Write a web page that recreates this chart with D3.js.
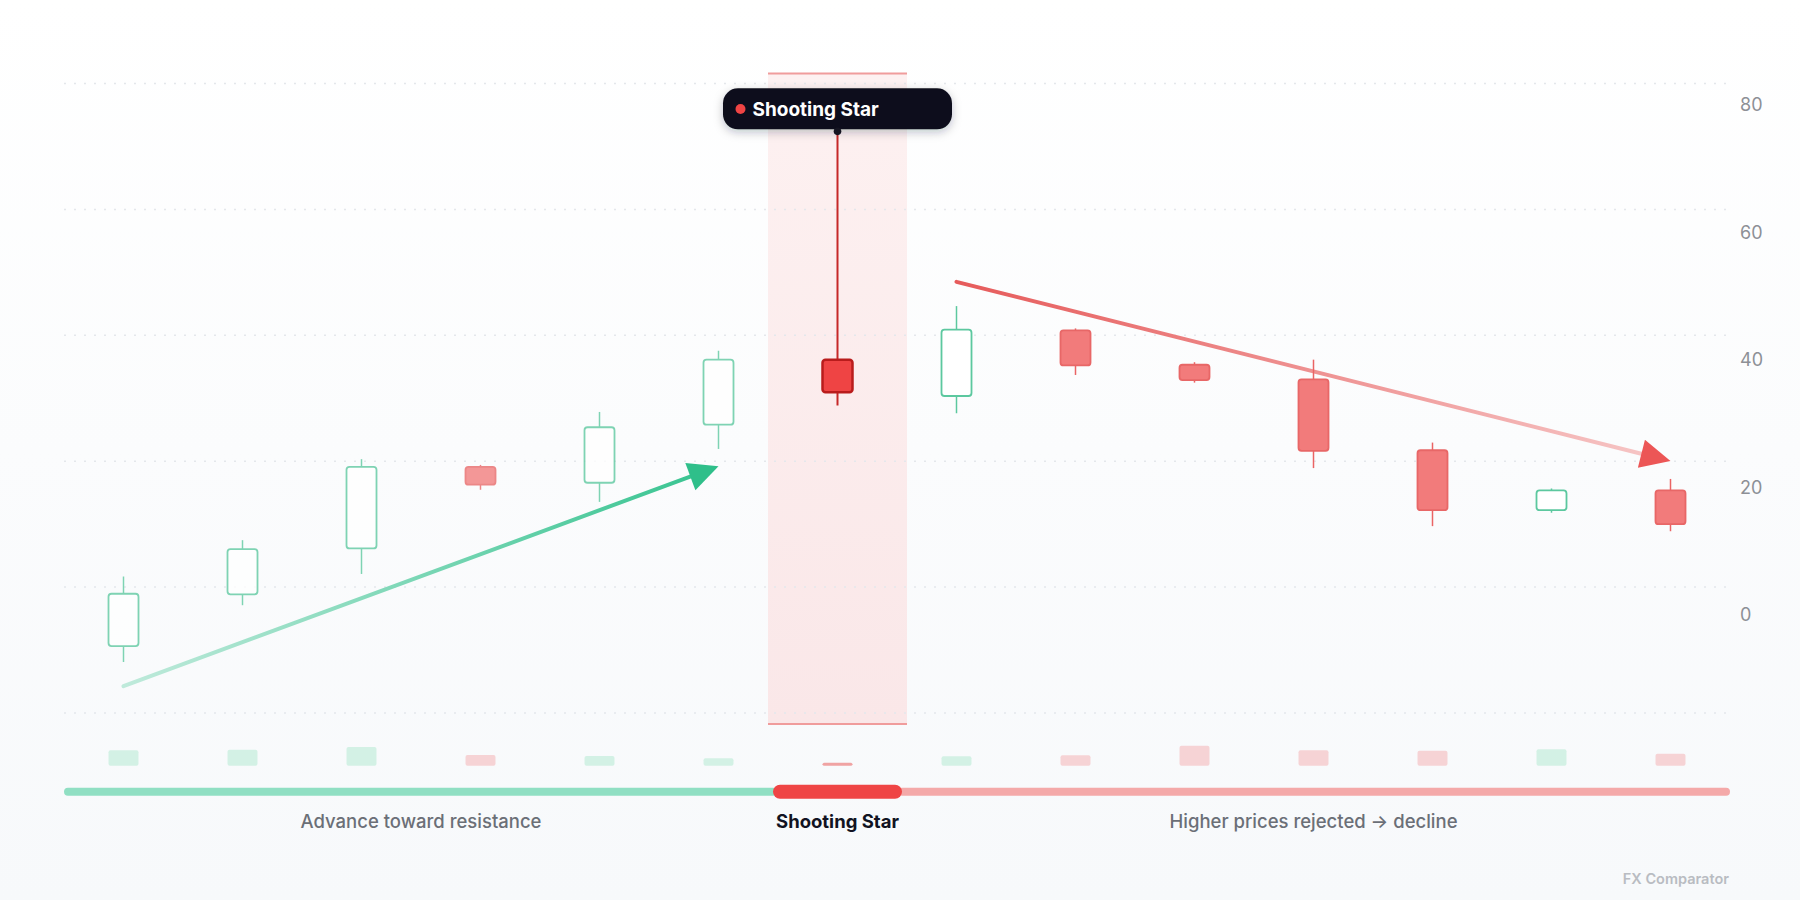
<!DOCTYPE html>
<html>
<head>
<meta charset="utf-8">
<script src="https://cdn.jsdelivr.net/npm/d3@7"></script>
<style>
  html, body { margin: 0; padding: 0; background: #fff; }
  svg { display: block; font-family: Inter, "Noto Sans", sans-serif; }
</style>
</head>
<body>
<div id="chart"></div>
<script>
const width = 1800;
const height = 900;

// candles
const sessions = ["S1", "S2", "S3", "S4", "S5", "S6", "S7", "S8", "S9", "S10", "S11", "S12", "S13", "S14"];
const opens = [-4.9, 3.2, 10.4, 23.2, 20.7, 29.8, 40.0, 34.3, 44.6, 39.2, 36.9, 25.8, 16.4, 19.5];
const highs = [6.0, 11.7, 24.4, 23.5, 31.8, 41.4, 75.8, 48.4, 44.9, 39.6, 40.0, 27.0, 19.8, 21.3];
const lows = [-7.4, 1.5, 6.4, 19.6, 17.7, 26.0, 32.8, 31.6, 37.6, 36.4, 23.0, 13.9, 16.0, 13.1];
const closes = [3.3, 10.3, 23.2, 20.4, 29.4, 40.0, 34.9, 44.7, 39.1, 36.8, 25.7, 16.4, 19.5, 14.2];
const volumes = [15.4, 16, 18.7, 10.7, 9.7, 7.4, 3, 9.4, 10.4, 20, 15.4, 15, 16.4, 12];

const patternIndex = 6;
const patternName = "Shooting Star";

const yTicks = [0, 20, 40, 60, 80];

// trend arrows: [session index, price]
const trendUp = [[0, -11.2], [5, 23.3]];
const trendDown = [[7, 52.2], [13, 24.1]];

const phaseLabels = ["Advance toward resistance", "Shooting Star", "Higher prices rejected \u2192 decline"];
const phaseSpans = [[0, 5], [6, 6], [7, 13]];

const candles = sessions.map((s, i) => ({
  s, i, o: opens[i], h: highs[i], l: lows[i], c: closes[i], v: volumes[i]
}));

const plotTop = 83.5, plotBottom = 713, left = 64, right = 1730;

const svg = d3.select("#chart").append("svg")
  .attr("width", width)
  .attr("height", height)
  .attr("viewBox", `0 0 ${width} ${height}`);

const defs = svg.append("defs");

const bg = defs.append("linearGradient").attr("id", "bg").attr("x1", 0).attr("y1", 0).attr("x2", 0).attr("y2", 1);
bg.append("stop").attr("offset", "0%").attr("stop-color", "#ffffff");
bg.append("stop").attr("offset", "100%").attr("stop-color", "#f7f9fb");

const band = defs.append("linearGradient").attr("id", "band").attr("x1", 0).attr("y1", 0).attr("x2", 0).attr("y2", 1);
band.append("stop").attr("offset", "0%").attr("stop-color", "#fdf1f1");
band.append("stop").attr("offset", "100%").attr("stop-color", "#fae7e8");

const shadow = defs.append("filter").attr("id", "shadow")
  .attr("x", "-20%").attr("y", "-50%").attr("width", "140%").attr("height", "220%");
shadow.append("feDropShadow").attr("dx", 0).attr("dy", 3).attr("stdDeviation", 5)
  .attr("flood-color", "#0f172a").attr("flood-opacity", 0.25);

svg.append("rect").attr("width", width).attr("height", height).attr("fill", "url(#bg)");

const x = d3.scaleBand().domain(sessions).range([left, right]).padding(0);
const cx = i => x(sessions[i]) + x.bandwidth() / 2;
const y = d3.scaleLinear().domain([-15.4, 83.3]).range([plotBottom, plotTop]);
const vol = d3.scaleLinear().domain([0, 20]).range([0, 20]);
const volBase = 765.7;
const bodyW = 30;

// highlight band behind the pattern candle
const bandX = cx(patternIndex) - 69.5;
svg.append("rect")
  .attr("x", bandX).attr("y", plotTop - 10)
  .attr("width", 139).attr("height", plotBottom - plotTop + 21)
  .attr("fill", "url(#band)");
svg.selectAll(".band-edge").data([plotTop - 10, plotBottom + 11]).enter()
  .append("line")
  .attr("x1", bandX).attr("x2", bandX + 139)
  .attr("y1", d => d).attr("y2", d => d)
  .attr("stroke", "#f09c9c").attr("stroke-width", 2);

// grid
const gridYs = d3.range(6).map(k => plotTop + k * (plotBottom - plotTop) / 5);
svg.append("g").selectAll("line").data(gridYs).enter().append("line")
  .attr("x1", left).attr("x2", right)
  .attr("y1", d => d).attr("y2", d => d)
  .attr("stroke", "#e4e7eb").attr("stroke-width", 1.5)
  .attr("stroke-dasharray", "2 8");

// y labels
svg.append("g").selectAll("text").data(yTicks).enter().append("text")
  .attr("x", 1740).attr("y", d => y(d))
  .attr("dominant-baseline", "central")
  .attr("font-size", 18).attr("fill", "#8d9096")
  .text(d => d);

// trend arrows
function trendArrow(pts, id, c0, c1, head) {
  const x0 = cx(pts[0][0]), y0 = y(pts[0][1]);
  const x1 = cx(pts[1][0]), y1 = y(pts[1][1]);
  const ang = Math.atan2(y1 - y0, x1 - x0);
  const len = 30, half = 14.5;
  const bx = x1 - len * Math.cos(ang), by = y1 - len * Math.sin(ang);
  const g = defs.append("linearGradient").attr("id", id)
    .attr("gradientUnits", "userSpaceOnUse")
    .attr("x1", x0).attr("y1", y0).attr("x2", bx).attr("y2", by);
  g.append("stop").attr("offset", "0%").attr("stop-color", c0);
  g.append("stop").attr("offset", "100%").attr("stop-color", c1);
  svg.append("line")
    .attr("x1", x0).attr("y1", y0).attr("x2", bx + 2 * Math.cos(ang)).attr("y2", by + 2 * Math.sin(ang))
    .attr("stroke", `url(#${id})`).attr("stroke-width", 4).attr("stroke-linecap", "round");
  const px = -Math.sin(ang), py = Math.cos(ang);
  svg.append("path")
    .attr("d", `M${x1},${y1}L${bx + half * px},${by + half * py}L${bx - half * px},${by - half * py}Z`)
    .attr("fill", head);
}
trendArrow(trendUp, "upGrad", "#bfeadb", "#3cc593", "#2fbf8a");
trendArrow(trendDown, "downGrad", "#e65b5b", "#f6c4c4", "#ec5656");

// candles
const up = d => d.c >= d.o;
const g = svg.append("g");
const cg = g.selectAll("g.candle").data(candles).enter().append("g")
  .attr("class", "candle")
  .attr("opacity", d => d.i < patternIndex ? 0.78 : 1);

cg.append("line")
  .attr("x1", d => cx(d.i)).attr("x2", d => cx(d.i))
  .attr("y1", d => d.i === patternIndex ? y(d.h) + 2 : y(d.h))
  .attr("y2", d => y(d.l))
  .attr("stroke", d => d.i === patternIndex ? "#c62828" : (up(d) ? "#5cc89f" : "#ea6464"))
  .attr("stroke-width", d => d.i === patternIndex ? 2 : 1.5);

cg.append("rect")
  .attr("x", d => cx(d.i) - bodyW / 2)
  .attr("y", d => y(Math.max(d.o, d.c)))
  .attr("width", bodyW)
  .attr("height", d => Math.abs(y(d.o) - y(d.c)))
  .attr("rx", 3)
  .attr("fill", d => d.i === patternIndex ? "#ef4444" : (up(d) ? "#ffffff" : "#f27b7b"))
  .attr("stroke", d => d.i === patternIndex ? "#b91c1c" : (up(d) ? "#5cc89f" : "#e86767"))
  .attr("stroke-width", d => d.i === patternIndex ? 2.5 : 1.8);

// volume
svg.append("g").selectAll("rect").data(candles).enter().append("rect")
  .attr("x", d => cx(d.i) - bodyW / 2)
  .attr("y", d => volBase - vol(d.v))
  .attr("width", bodyW)
  .attr("height", d => vol(d.v))
  .attr("rx", 2)
  .attr("fill", d => d.i === patternIndex ? "#f0a3a3" : (up(d) ? "#d3f1e5" : "#f6d3d5"));

// phase bar
const pillL = cx(patternIndex) - 64.5, pillR = cx(patternIndex) + 64.5;
const phaseY = 791.7;
svg.append("rect").attr("x", left).attr("y", phaseY - 4).attr("width", pillL - left + 4).attr("height", 8)
  .attr("rx", 4).attr("fill", "#90dfc3");
svg.append("rect").attr("x", pillR - 4).attr("y", phaseY - 4).attr("width", right - pillR + 4).attr("height", 8)
  .attr("rx", 4).attr("fill", "#f4a9a9");
svg.append("rect").attr("x", pillL).attr("y", phaseY - 7).attr("width", pillR - pillL).attr("height", 14)
  .attr("rx", 7).attr("fill", "#ef4545");

svg.append("g").selectAll("text").data(phaseLabels).enter().append("text")
  .attr("x", (d, k) => (x(sessions[phaseSpans[k][0]]) + x(sessions[phaseSpans[k][1]]) + x.bandwidth()) / 2)
  .attr("y", 828)
  .attr("text-anchor", "middle")
  .attr("font-size", 18.5)
  .attr("font-weight", (d, k) => k === 1 ? 700 : 500)
  .attr("fill", (d, k) => k === 1 ? "#111322" : "#6b6f77")
  .text(d => d);

// tooltip
const tipX = cx(patternIndex);
const tipY = y(highs[patternIndex]);
const tip = svg.append("g");
tip.append("rect")
  .attr("x", tipX - 114.5).attr("y", 88.3)
  .attr("width", 229).attr("height", 41).attr("rx", 15)
  .attr("fill", "#0e0e1c").attr("filter", "url(#shadow)");
tip.append("circle").attr("cx", tipX).attr("cy", tipY).attr("r", 3.8).attr("fill", "#141421");
tip.append("circle").attr("cx", tipX - 97).attr("cy", 109).attr("r", 5).attr("fill", "#ef4444");
tip.append("text")
  .attr("x", tipX - 85).attr("y", 109)
  .attr("dominant-baseline", "central")
  .attr("font-size", 19).attr("font-weight", 700).attr("fill", "#ffffff")
  .text(patternName);

svg.append("text")
  .attr("x", 1729).attr("y", 884)
  .attr("text-anchor", "end")
  .attr("font-size", 14.5).attr("font-weight", 600).attr("fill", "#b9bcc2")
  .text("FX Comparator");
</script>
</body>
</html>
